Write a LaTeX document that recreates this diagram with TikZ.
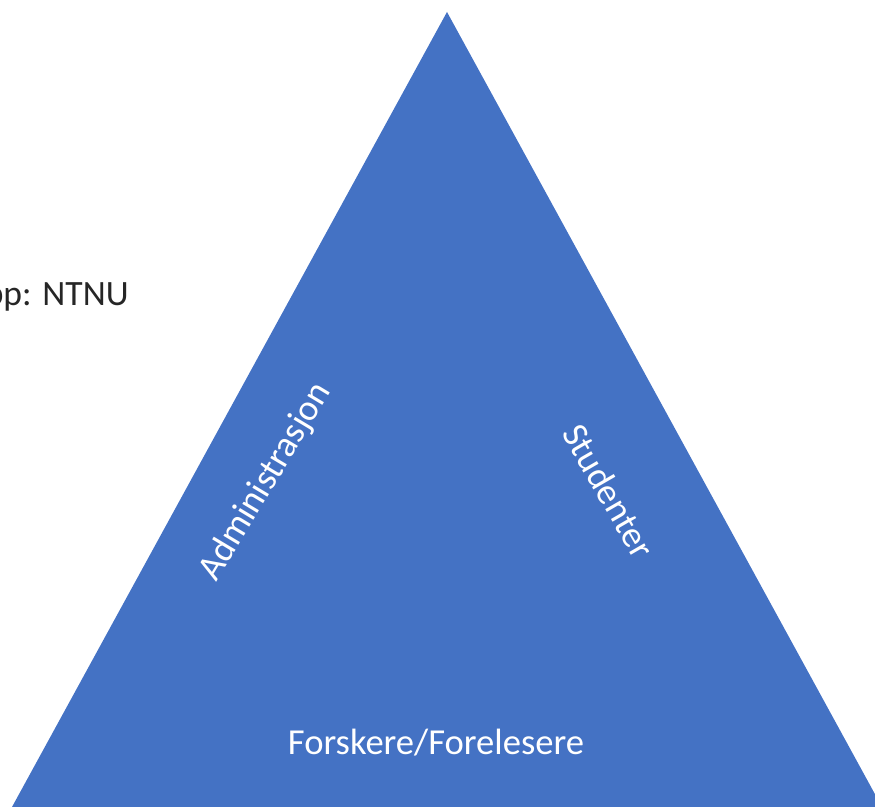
\documentclass[tikz,border=0pt]{standalone}
\usepackage{fontspec}
\setmainfont{Carlito}
\definecolor{officeblue}{HTML}{4472C4}
\begin{document}
\begin{tikzpicture}[x=0.5pt,y=-0.5pt,
	lbl/.style={text=white, font=\fontsize{18.3}{22}\selectfont, inner sep=0pt}]

	\useasboundingbox (0,0) rectangle (875,807);
	\clip (0,0) rectangle (875,807);

	\fill[officeblue] (447,12)--(882,807)--(12,807)--cycle;

	\node[anchor=base east, inner sep=0pt, text=black!85, font=\fontsize{17.8}{21}\selectfont] (topp) at (129,306) {pp: NTNU};
	\node[lbl, rotate=59] (admin) at (266,482) {Administrasjon};
	\node[lbl, rotate=-60] (stud) at (609,491) {Studenter};
	\node[lbl, anchor=base] (forsk) at (436,755) {Forskere/Forelesere};

\end{tikzpicture}
\end{document}
